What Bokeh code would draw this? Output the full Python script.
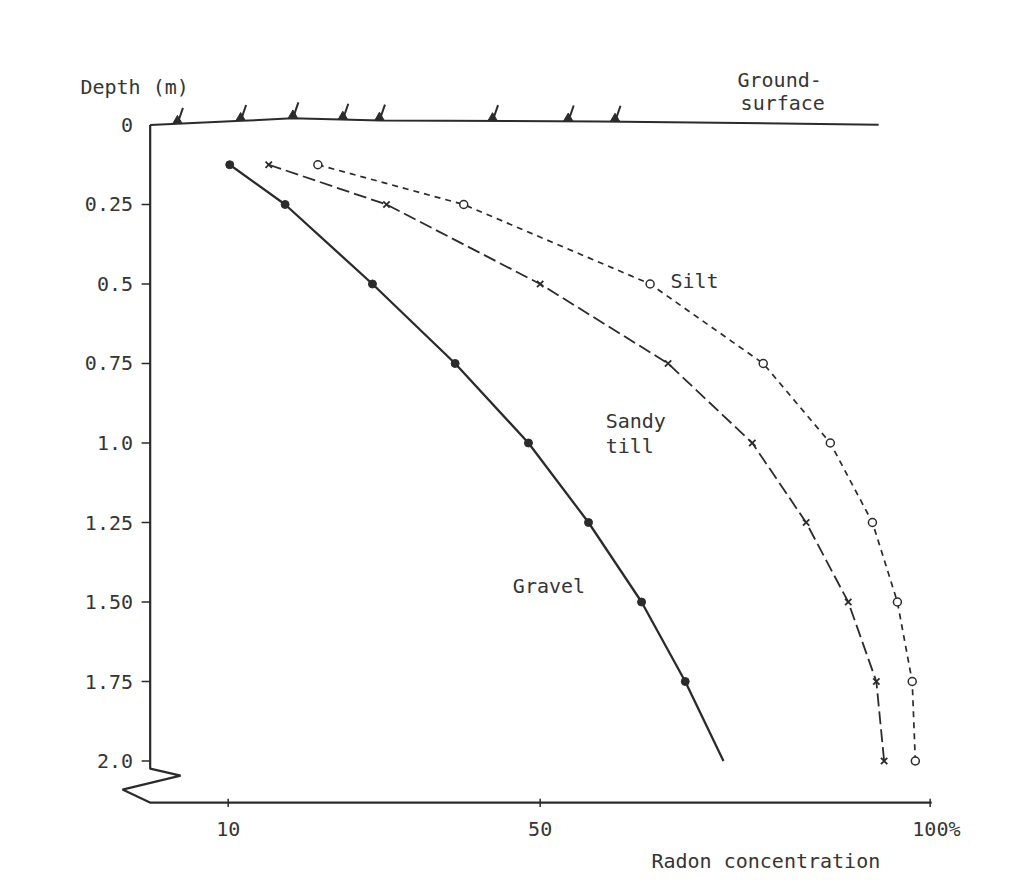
import numpy as np
from bokeh.plotting import figure
from bokeh.models import Range1d
from bokeh.core.properties import value
from bokeh.embed import file_html
from bokeh.resources import INLINE

# ---- data ----
depths = [0.125, 0.25, 0.5, 0.75, 1.0, 1.25, 1.5, 1.75, 2.0]
gravel = [10.2, 17.3, 28.5, 39.1, 48.5, 56.2, 63.0, 68.6, 73.5]
sandy_till = [15.2, 30.3, 50.0, 66.4, 77.2, 84.1, 89.5, 93.1, 94.1]
silt = [21.5, 40.2, 64.1, 78.6, 87.2, 92.6, 95.8, 97.7, 98.1]

y_ticks = [0.25, 0.5, 0.75, 1.0, 1.25, 1.5, 1.75, 2.0]
y_label_pos = [0.0] + y_ticks
y_labels = ["0", "0.25", "0.5", "0.75", "1.0", "1.25", "1.50", "1.75", "2.0"]
x_ticks = [10, 50, 100]
x_labels = ["10", "50", "100%"]

ground_x = [0.0, 11.7, 18.2, 29.5, 57.7, 93.4]
ground_d = [0.0, -0.013, -0.021, -0.014, -0.011, -0.001]
tuft_x = [3.5, 11.6, 18.3, 24.7, 29.4, 43.9, 53.6, 59.6]

# axis outline with the scale break
axis_x = [0.0, 0.0, 3.9, -3.55, 0.04, 100.2]
axis_d = [0.0, 2.024, 2.046, 2.09, 2.131, 2.131]
x_axis_d = 2.131

INK = "#2b2b2b"
TXT = "#353535"
FONT = value("DejaVu Sans Mono")
FS = "20px"

p = figure(width=1000, height=876,
           x_range=Range1d(-19.19, 109.02), y_range=Range1d(2.3632, -0.3915),
           output_backend="svg", toolbar_location=None,
           x_axis_location=None, y_axis_location=None,
           min_border=0, background_fill_color="white",
           border_fill_color="white", outline_line_color=None)
p.grid.visible = False

# ground surface
p.line(ground_x, ground_d, line_color=INK, line_width=2)
tuft_d = list(np.interp(tuft_x, ground_x, ground_d))
p.segment(x0=tuft_x, y0=tuft_d,
          x1=[t + 0.7 for t in tuft_x], y1=[d - 0.05 for d in tuft_d],
          line_color=INK, line_width=2)
p.scatter(tuft_x, [d - 0.01 for d in tuft_d], marker="triangle", size=9,
          fill_color=INK, line_color=INK)

# axes
p.line(axis_x, axis_d, line_color=INK, line_width=2.2)
p.segment(x0=[-1.1] * len(y_ticks), y0=y_ticks, x1=[0.0] * len(y_ticks), y1=y_ticks,
          line_color=INK, line_width=1.5)
p.segment(x0=x_ticks, y0=[x_axis_d - 0.012] * 3, x1=x_ticks, y1=[x_axis_d + 0.014] * 3,
          line_color=INK, line_width=1.5)
p.text(x=[-2.2] * len(y_labels), y=y_label_pos, text=y_labels,
       text_align="right", text_baseline="middle",
       text_font=FONT, text_font_size=FS, text_color=TXT)
p.text(x=[t + (0.8 if t == 100 else 0.0) for t in x_ticks], y=[2.215] * 3, text=x_labels,
       text_align="center", text_baseline="middle",
       text_font=FONT, text_font_size=FS, text_color=TXT)

# series
p.line(gravel, depths, line_color=INK, line_width=2.3)
p.scatter(gravel[:-1], depths[:-1], marker="circle", size=8,
          fill_color=INK, line_color=INK)

p.line(sandy_till, depths, line_color=INK, line_width=1.8, line_dash="13 5")
p.scatter(sandy_till, depths, marker="x", size=9, line_color=INK, line_width=1.8)

p.line(silt, depths, line_color=INK, line_width=1.7, line_dash="6 5")
p.scatter(silt, depths, marker="circle", size=8, fill_color="white",
          line_color=INK, line_width=1.5)

# annotations
notes_x = [-8.94, 75.3, 75.7, 66.7, 58.4, 58.4, 46.5]
notes_d = [-0.118, -0.140, -0.068, 0.492, 0.932, 1.011, 1.451]
notes_t = ["Depth (m)", "Ground-", "surface", "Silt", "Sandy", "till", "Gravel"]
p.text(x=notes_x, y=notes_d, text=notes_t, text_align="left",
       text_baseline="middle", text_font=FONT, text_font_size=FS, text_color=TXT)
p.text(x=[93.6], y=[2.315], text=["Radon concentration"], text_align="right",
       text_baseline="middle", text_font=FONT, text_font_size=FS, text_color=TXT)

open("out.html", "w").write(file_html(p, INLINE))
